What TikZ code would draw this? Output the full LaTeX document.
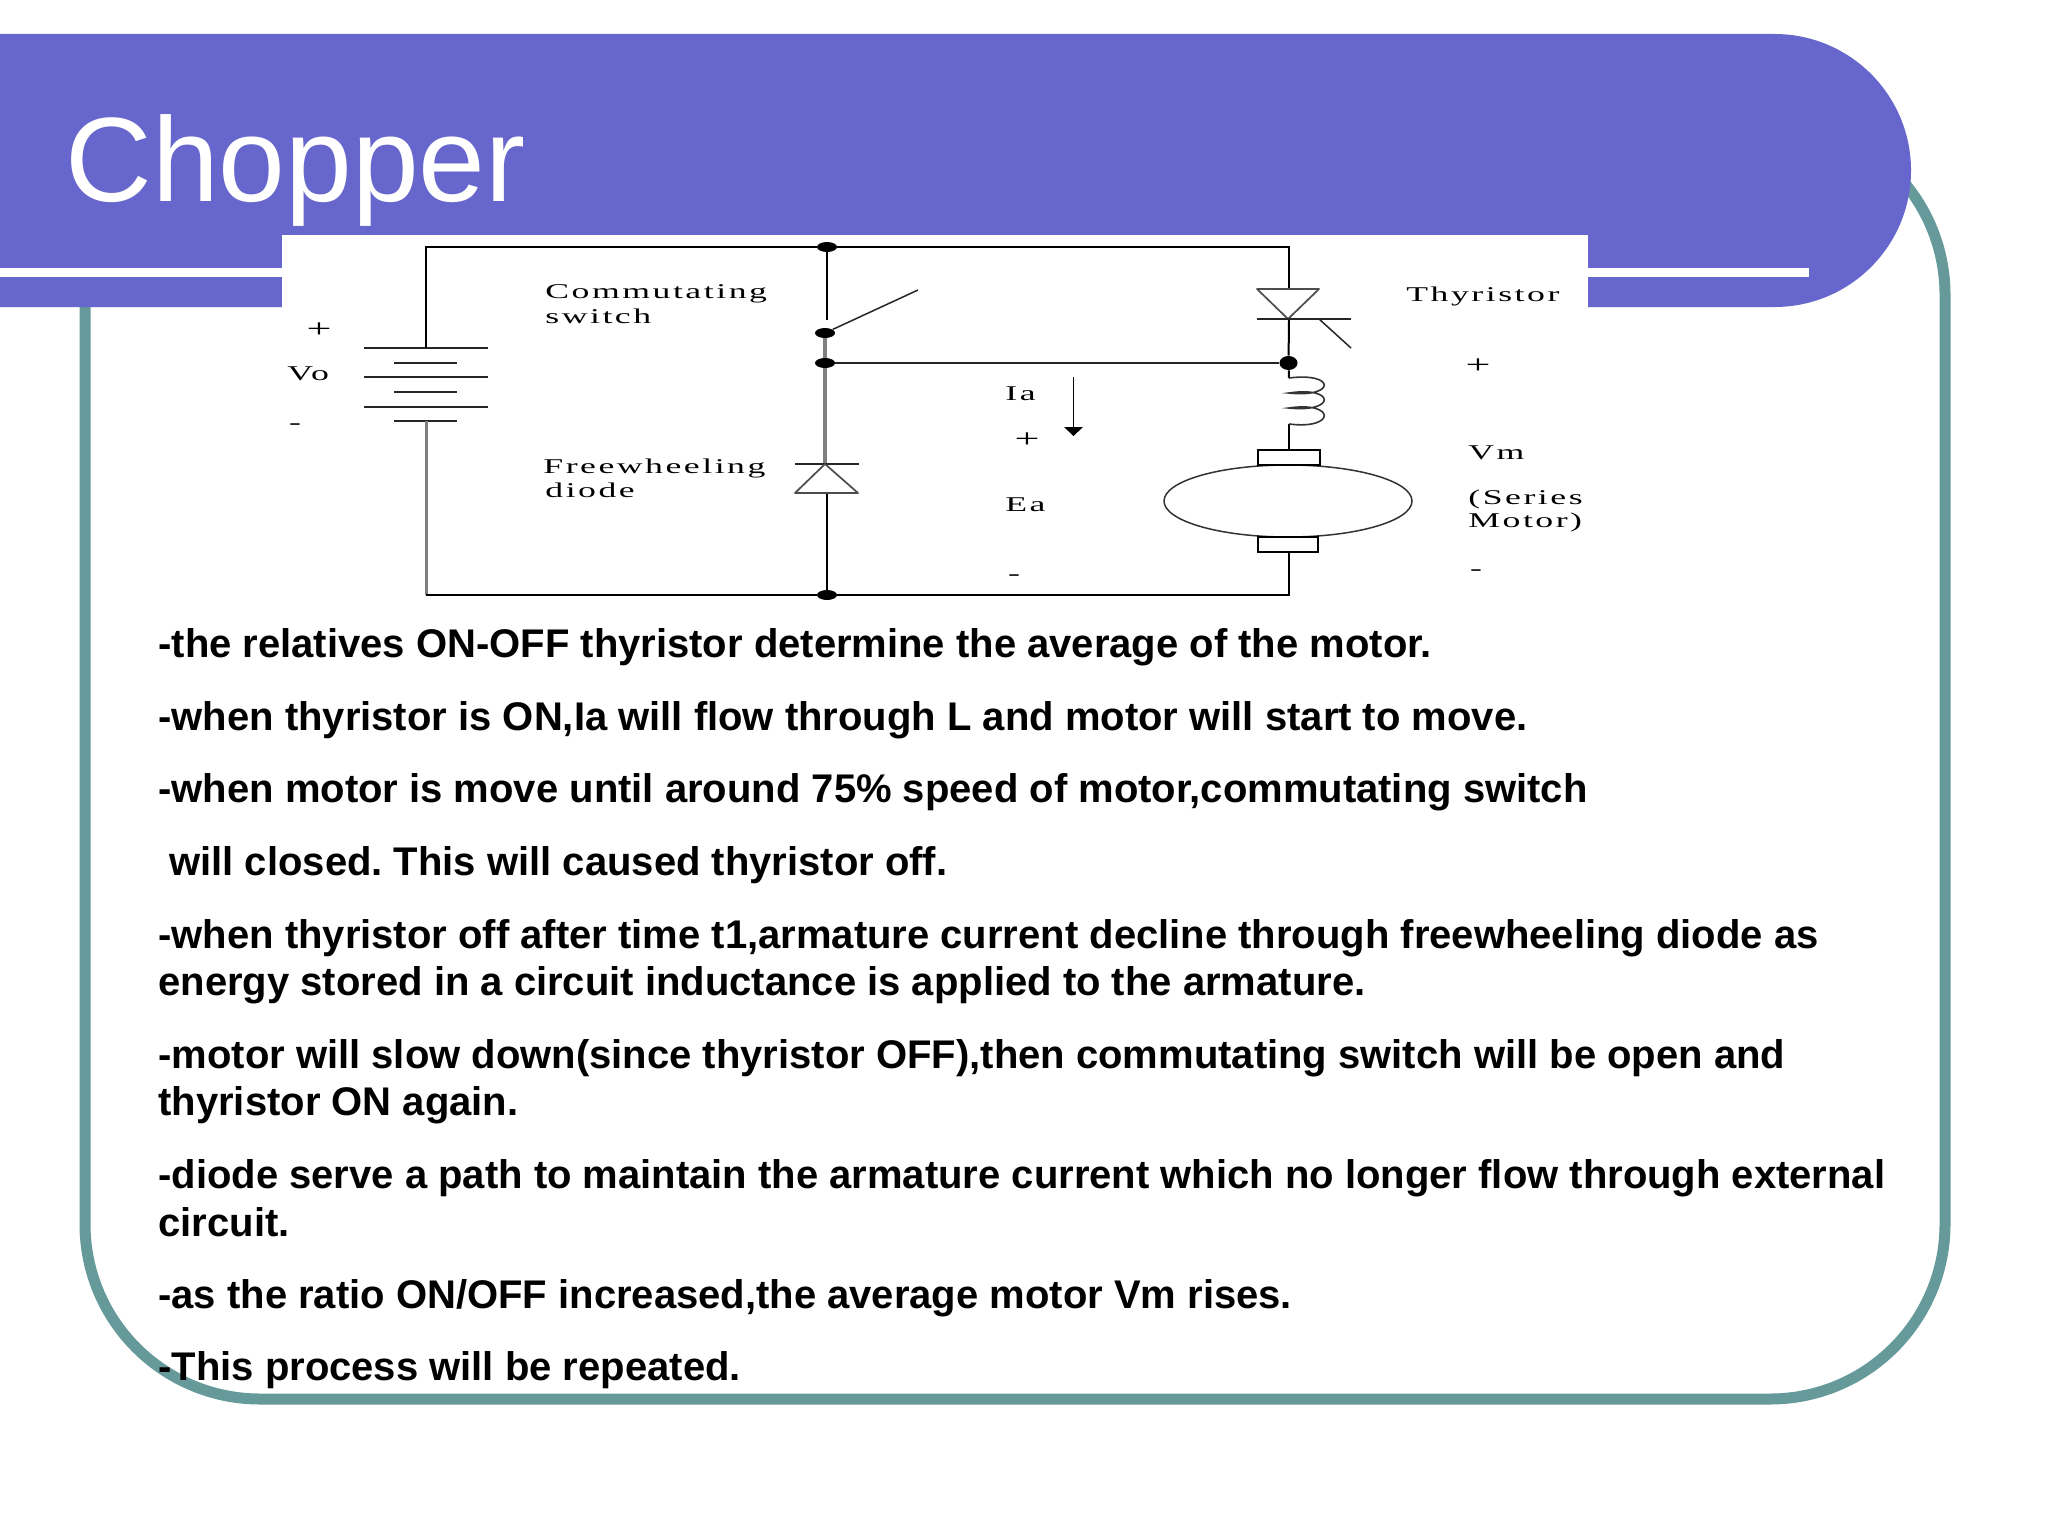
\documentclass[tikz,border=0pt]{standalone}
\usepackage{fontspec}
\setmainfont{Liberation Sans}
\newfontfamily\ckt[FakeStretch=1.7,LetterSpace=12]{Liberation Serif}
\definecolor{banner}{HTML}{6666CC}
\definecolor{frame}{HTML}{669999}
\definecolor{wiregray}{HTML}{808080}
\tikzset{
  body/.style={anchor=base west,inner sep=0pt,font=\fontsize{20}{24}\selectfont\bfseries\frenchspacing,text=black},
  title/.style={anchor=base west,inner sep=0pt,font=\fontsize{60}{66}\selectfont,text=white},
  lab/.style={anchor=base west,inner sep=0pt,font=\fontsize{10.5}{12}\ckt,text=black},
  sign/.style={inner sep=0pt,font=\fontsize{13}{14}\ckt,text=black},
  wire/.style={draw=black,line width=1pt},
  thin wire/.style={draw=black!85,line width=.75pt},
  gray wire/.style={draw=wiregray,line width=2pt},
  dot/.style={ellipse,fill=black,inner sep=0pt,minimum width=10pt,minimum height=5pt},
  part/.style={draw=black,line width=.75pt,fill=white},
}
\usetikzlibrary{shapes.geometric}
\begin{document}
\begin{tikzpicture}[x=.5pt,y=-.5pt]
\useasboundingbox (0,0) rectangle (2048,1536);
\fill[white] (0,0) rectangle (2048,1536);
% frame
\draw[frame,line width=5.5pt,rounded corners=87.5pt] (85,120) rectangle (1945,1399);
% banner
\fill[banner,rounded corners=68.25pt] (-200,34) -- (1911,34) -- (1911,307) -- (-200,307) -- cycle;
\fill[white] (0,268) rectangle (1809,277);
\node[title] (ttl) at (65,201) {Chopper};
% picture background
\fill[white] (282,235) rectangle (1588,600);
% junctions
\node[dot] (jt) at (827,247) {};
\node[dot] (js) at (825,333) {};
\node[dot] (jm) at (825,363) {};
\node[dot] (jb) at (827,595) {};
\node[dot,minimum width=9pt,minimum height=7pt] (jr) at (1288.5,363) {};
% corners & ends
\coordinate (tl) at (426,247);
\coordinate (tr) at (1289,247);
\coordinate (bl) at (426,595);
\coordinate (br) at (1289,595);
\coordinate (batt) at (426,348);
\coordinate (batb) at (426,421);
\coordinate (swopen) at (827,320);
\coordinate (swend) at (918,290);
\coordinate (dtop) at (825,464);
\coordinate (dbot) at (827,493);
\coordinate (thtop) at (1289,289);
\coordinate (thbot) at (1289,319);
\coordinate (ltop) at (1289,378);
\coordinate (lbot) at (1289,424);
\coordinate (mt) at (1289,450);
\coordinate (mb) at (1289,552);
% battery
\foreach \y in {348,377,407} \draw[thin wire] (364,\y) -- (488,\y);
\foreach \y in {363,392,421} \draw[thin wire] (394,\y) -- (457,\y);
% wires
\draw[wire] (batt) -- (tl) -- (jt) -- (tr) -- (thtop);
\draw[wire] (jt) -- (swopen);
\draw[thin wire] (js) -- (swend);
\draw[gray wire] (js) -- (jm) -- (dtop);
\draw[gray wire,line width=1.5pt] (batb) -- (bl);
\draw[wire] (bl) -- (jb) -- (br) -- (mb);
\draw[wire] (dbot) -- (jb);
\draw[thin wire] (jm) -- (jr);
\draw[wire] (thbot) -- (jr) -- (ltop);
\draw[wire] (lbot) -- (mt);
% diode
\draw[thin wire] (795,464) -- (859,464);
\draw[draw=black!70,line width=.85pt,line join=round] (825,464) -- (795,493) -- (858,493) -- cycle;
% thyristor
\draw[draw=black!70,line width=.85pt,line join=round] (1257,289) -- (1319,289) -- (1288,319) -- cycle;
\draw[thin wire] (1257,319) -- (1351,319);
\draw[thin wire] (1319,319) -- (1351,348);
% inductor
\draw[draw=black!80,line width=.8pt]
  (ltop) .. controls (1336,372) and (1336,398) .. (1289,393)
  .. controls (1336,386) and (1336,413) .. (1289,408)
  .. controls (1336,401) and (1336,430) .. (lbot);
% motor
\node[draw=black!80,line width=.75pt,ellipse,minimum width=124pt,minimum height=36pt,inner sep=0pt] (arm) at (1288,501) {};
\node[draw=black,line width=.85pt,minimum width=31pt,minimum height=7.5pt,inner sep=0pt,fill=white] (bt) at (1289,457.5) {};
\node[draw=black,line width=.85pt,minimum width=30pt,minimum height=7.5pt,inner sep=0pt,fill=white] (bb) at (1288,544.5) {};
% current arrow
\coordinate (iaa) at (1073.5,377);
\coordinate (iab) at (1073.5,428);
\draw[wire,line width=.8pt] (iaa) -- (iab);
\fill[black] (1064,427) -- (1083,427) -- (1073.5,436) -- cycle;
% labels
\node[lab] (l1) at (545,298) {Commutating};
\node[lab] (l2) at (545,323) {switch};
\node[lab] (l3) at (543,473) {Freewheeling};
\node[lab] (l4) at (545,497) {diode};
\node[lab] (l5) at (1406,301) {Thyristor};
\node[lab] (l6) at (1468,459) {Vm};
\node[lab] (l7) at (1468,504) {(Series};
\node[lab] (l8) at (1468,527) {Motor)};
\node[lab] (l9) at (287,380) {Vo};
\node[lab] (l10) at (1005,400) {Ia};
\node[lab] (l11) at (1005,511) {Ea};
\node[sign] (p1) at (319,330) {+};
\node[sign] (p2) at (1027,440) {+};
\node[sign] (p3) at (1478,366) {+};
\node[sign,font=\fontsize{10.5}{12}\ckt] (m1) at (295,427) {-};
\node[sign,font=\fontsize{10.5}{12}\ckt] (m2) at (1014,578) {-};
\node[sign,font=\fontsize{10.5}{12}\ckt] (m3) at (1476,573) {-};
% body
\node[body] (t1) at (158,657) {-the relatives ON-OFF thyristor determine the average of the motor.};
\node[body] (t2) at (158,730) {-when thyristor is ON,Ia will flow through L and motor will start to move.};
\node[body] (t3) at (158,802) {-when motor is move until around 75\% speed of motor,commutating switch};
\node[body] (t4) at (169,875) {will closed. This will caused thyristor off.};
\node[body] (t5) at (158,948) {-when thyristor off after time t1,armature current decline through freewheeling diode as};
\node[body] (t6) at (158,995) {energy stored in a circuit inductance is applied to the armature.};
\node[body] (t7) at (158,1068) {-motor will slow down(since thyristor OFF),then commutating switch will be open and};
\node[body] (t8) at (158,1115) {thyristor ON again.};
\node[body] (t9) at (158,1188) {-diode serve a path to maintain the armature current which no longer flow through external};
\node[body] (t10) at (158,1236) {circuit.};
\node[body] (t11) at (158,1308) {-as the ratio ON/OFF increased,the average motor Vm rises.};
\node[body] (t12) at (158,1380) {-This process will be repeated.};
\end{tikzpicture}
\end{document}
